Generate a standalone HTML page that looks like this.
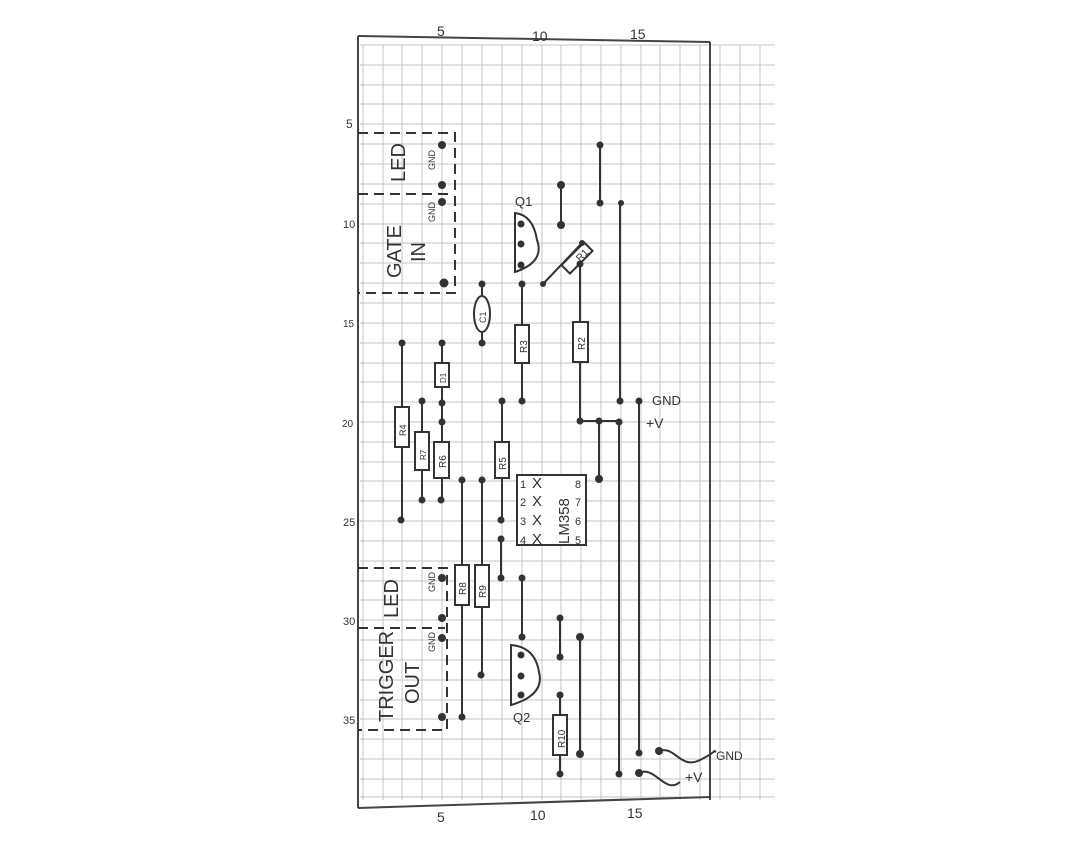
<!DOCTYPE html>
<html><head><meta charset="utf-8"><style>
html,body{margin:0;padding:0;background:#fff;}
svg{display:block;}
text{font-family:"Liberation Sans",sans-serif;fill:#333;}
</style></head><body>
<svg width="1080" height="852" viewBox="0 0 1080 852" xmlns="http://www.w3.org/2000/svg">
<rect width="1080" height="852" fill="#fff"/>
<g stroke="#c4c4c4" stroke-width="1">
<line x1="363" y1="45" x2="363" y2="800"/><line x1="383" y1="45" x2="383" y2="800"/><line x1="402" y1="45" x2="402" y2="800"/><line x1="422" y1="45" x2="422" y2="800"/><line x1="442" y1="45" x2="442" y2="800"/><line x1="462" y1="45" x2="462" y2="800"/><line x1="482" y1="45" x2="482" y2="800"/><line x1="502" y1="45" x2="502" y2="800"/><line x1="522" y1="45" x2="522" y2="800"/><line x1="542" y1="45" x2="542" y2="800"/><line x1="561" y1="45" x2="561" y2="800"/><line x1="581" y1="45" x2="581" y2="800"/><line x1="601" y1="45" x2="601" y2="800"/><line x1="621" y1="45" x2="621" y2="800"/><line x1="641" y1="45" x2="641" y2="800"/><line x1="660" y1="45" x2="660" y2="800"/><line x1="680" y1="45" x2="680" y2="800"/><line x1="700" y1="45" x2="700" y2="800"/><line x1="720" y1="45" x2="720" y2="800"/><line x1="740" y1="45" x2="740" y2="800"/><line x1="760" y1="45" x2="760" y2="800"/>
<line x1="360" y1="45" x2="775" y2="45"/><line x1="360" y1="65" x2="775" y2="65"/><line x1="360" y1="85" x2="775" y2="85"/><line x1="360" y1="104" x2="775" y2="104"/><line x1="360" y1="124" x2="775" y2="124"/><line x1="360" y1="144" x2="775" y2="144"/><line x1="360" y1="164" x2="775" y2="164"/><line x1="360" y1="184" x2="775" y2="184"/><line x1="360" y1="204" x2="775" y2="204"/><line x1="360" y1="224" x2="775" y2="224"/><line x1="360" y1="243" x2="775" y2="243"/><line x1="360" y1="263" x2="775" y2="263"/><line x1="360" y1="283" x2="775" y2="283"/><line x1="360" y1="303" x2="775" y2="303"/><line x1="360" y1="323" x2="775" y2="323"/><line x1="360" y1="343" x2="775" y2="343"/><line x1="360" y1="363" x2="775" y2="363"/><line x1="360" y1="382" x2="775" y2="382"/><line x1="360" y1="402" x2="775" y2="402"/><line x1="360" y1="422" x2="775" y2="422"/><line x1="360" y1="442" x2="775" y2="442"/><line x1="360" y1="462" x2="775" y2="462"/><line x1="360" y1="481" x2="775" y2="481"/><line x1="360" y1="501" x2="775" y2="501"/><line x1="360" y1="521" x2="775" y2="521"/><line x1="360" y1="541" x2="775" y2="541"/><line x1="360" y1="561" x2="775" y2="561"/><line x1="360" y1="581" x2="775" y2="581"/><line x1="360" y1="600" x2="775" y2="600"/><line x1="360" y1="620" x2="775" y2="620"/><line x1="360" y1="640" x2="775" y2="640"/><line x1="360" y1="660" x2="775" y2="660"/><line x1="360" y1="680" x2="775" y2="680"/><line x1="360" y1="700" x2="775" y2="700"/><line x1="360" y1="719" x2="775" y2="719"/><line x1="360" y1="739" x2="775" y2="739"/><line x1="360" y1="759" x2="775" y2="759"/><line x1="360" y1="779" x2="775" y2="779"/><line x1="360" y1="797" x2="775" y2="797"/>
</g>
<g stroke="#444" stroke-width="2" fill="none">
<line x1="358" y1="36" x2="710" y2="42"/>
<line x1="710" y1="42" x2="710" y2="800"/>
<line x1="358" y1="808" x2="710" y2="797"/>
<line x1="358" y1="36" x2="358" y2="808"/>
</g>
<g font-size="14" fill="#333">
<text x="437" y="36">5</text><text x="532" y="41">10</text><text x="630" y="39">15</text>
<text x="437" y="822">5</text><text x="530" y="820">10</text><text x="627" y="818">15</text>
<text x="346" y="128" font-size="12">5</text><text x="343" y="228" font-size="11">10</text><text x="343" y="327" font-size="10">15</text>
<text x="342" y="427" font-size="10">20</text><text x="343" y="526" font-size="11">25</text><text x="343" y="625" font-size="11">30</text><text x="343" y="724" font-size="11">35</text>
</g>
<g fill="none" stroke="#333" stroke-width="2" stroke-dasharray="10,6">
<path d="M358 133 L455 133 L455 293 L358 293"/>
<path d="M358 194 L450 194"/>
<path d="M358 568 L447 568 L447 730 L358 730"/>
<path d="M358 628 L445 628"/>
</g>
<g font-size="20" fill="#333">
<text transform="translate(405,182) rotate(-90)">LED</text>
<text transform="translate(401,278) rotate(-90)">GATE</text>
<text transform="translate(425,262) rotate(-90)">IN</text>
<text transform="translate(398,618) rotate(-90)">LED</text>
<text transform="translate(393,722) rotate(-90)">TRIGGER</text>
<text transform="translate(419,704) rotate(-90)">OUT</text>
<text font-size="9" transform="translate(435,170) rotate(-90)">GND</text>
<text font-size="9" transform="translate(435,222) rotate(-90)">GND</text>
<text font-size="9" transform="translate(435,592) rotate(-90)">GND</text>
<text font-size="9" transform="translate(435,652) rotate(-90)">GND</text>
</g>
<g stroke="#333" stroke-width="2" fill="none">
<line x1="561" y1="185" x2="561" y2="225"/>
<line x1="600" y1="145" x2="600" y2="203"/>
<line x1="620" y1="203" x2="620" y2="401"/>
<line x1="639" y1="401" x2="639" y2="753"/>
<line x1="619" y1="422" x2="619" y2="774"/>
<line x1="543" y1="284" x2="582" y2="243"/>
<line x1="580" y1="264" x2="580" y2="421"/>
<line x1="522" y1="284" x2="522" y2="401"/>
<line x1="482" y1="284" x2="482" y2="343"/>
<line x1="402" y1="343" x2="402" y2="520"/>
<line x1="422" y1="401" x2="422" y2="500"/>
<line x1="442" y1="343" x2="442" y2="500"/>
<line x1="502" y1="401" x2="502" y2="520"/>
<line x1="501" y1="539" x2="501" y2="578"/>
<line x1="462" y1="480" x2="462" y2="717"/>
<line x1="482" y1="480" x2="482" y2="675"/>
<line x1="580" y1="421" x2="619" y2="421"/>
<line x1="599" y1="421" x2="599" y2="479"/>
<line x1="522" y1="578" x2="522" y2="637"/>
<line x1="560" y1="618" x2="560" y2="657"/>
<line x1="560" y1="695" x2="560" y2="774"/>
<line x1="580" y1="637" x2="580" y2="754"/>
<path d="M659 751 C675 745,680 770,700 760 S712 750,716 752"/>
<path d="M639 773 C655 765,665 795,680 782"/>
</g>
<g stroke="#333" stroke-width="2" fill="#fff">
<path d="M515 213 L515 272 Q545 262,537 240 Q533 215,515 213 Z"/>
<path d="M511 645 L511 705 Q545 695,539 672 Q535 647,511 645 Z"/>
<rect x="571" y="242" width="12" height="32" transform="rotate(45 577 258)" />
<ellipse cx="482" cy="314" rx="8" ry="18"/>
<rect x="515" y="325" width="14" height="38"/>
<rect x="573" y="322" width="15" height="40"/>
<rect x="435" y="363" width="14" height="24"/>
<rect x="395" y="407" width="14" height="40"/>
<rect x="415" y="432" width="14" height="38"/>
<rect x="434" y="442" width="15" height="36"/>
<rect x="495" y="442" width="14" height="36"/>
<rect x="455" y="565" width="14" height="40"/>
<rect x="475" y="565" width="14" height="42"/>
<rect x="553" y="715" width="14" height="40"/>
<rect x="517" y="475" width="69" height="70"/>
</g>
<g font-size="10" fill="#333">
<text transform="translate(580,262) rotate(-45)">R1</text>
<text transform="translate(486,323) rotate(-90)" font-size="9">C1</text>
<text transform="translate(527,353) rotate(-90)">R3</text>
<text transform="translate(585,350) rotate(-90)">R2</text>
<text transform="translate(446,383) rotate(-90)" font-size="8">D1</text>
<text transform="translate(406,436) rotate(-90)" font-size="9">R4</text>
<text transform="translate(426,460) rotate(-90)" font-size="8">R7</text>
<text transform="translate(446,468) rotate(-90)">R6</text>
<text transform="translate(506,470) rotate(-90)">R5</text>
<text transform="translate(466,595) rotate(-90)">R8</text>
<text transform="translate(486,598) rotate(-90)">R9</text>
<text transform="translate(565,748) rotate(-90)">R10</text>
<text x="515" y="206" font-size="13">Q1</text>
<text x="513" y="722" font-size="13">Q2</text>
<text x="520" y="488" font-size="11">1</text><text x="520" y="506" font-size="11">2</text><text x="520" y="525" font-size="11">3</text><text x="520" y="544" font-size="11">4</text>
<text x="575" y="488" font-size="11">8</text><text x="575" y="506" font-size="11">7</text><text x="575" y="525" font-size="11">6</text><text x="575" y="544" font-size="11">5</text>
<text x="532" y="488" font-size="15">X</text><text x="532" y="506" font-size="15">X</text><text x="532" y="525" font-size="15">X</text><text x="532" y="544" font-size="15">X</text>
<text transform="translate(569,544) rotate(-90)" font-size="15">LM358</text>
<text x="652" y="405" font-size="13">GND</text>
<text x="646" y="428" font-size="14">+V</text>
<text x="716" y="760" font-size="12">GND</text>
<text x="685" y="782" font-size="14">+V</text>
</g>
<g fill="#333">
<circle cx="442" cy="145" r="4"/><circle cx="442" cy="185" r="4"/><circle cx="442" cy="202" r="4"/><circle cx="444" cy="283" r="4.5"/>
<circle cx="521" cy="224" r="3.5"/><circle cx="521" cy="244" r="3.5"/><circle cx="521" cy="265" r="3.5"/>
<circle cx="561" cy="185" r="4"/><circle cx="561" cy="225" r="4"/><circle cx="600" cy="145" r="3.5"/><circle cx="600" cy="203" r="3.5"/><circle cx="621" cy="203" r="3"/>
<circle cx="543" cy="284" r="3"/><circle cx="582" cy="243" r="3"/><circle cx="580" cy="264" r="3.5"/>
<circle cx="522" cy="284" r="3.5"/><circle cx="482" cy="284" r="3.5"/><circle cx="482" cy="343" r="3.5"/><circle cx="522" cy="401" r="3.5"/>
<circle cx="402" cy="343" r="3.5"/><circle cx="442" cy="343" r="3.5"/><circle cx="422" cy="401" r="3.5"/><circle cx="442" cy="403" r="3.5"/><circle cx="442" cy="422" r="3.5"/>
<circle cx="422" cy="500" r="3.5"/><circle cx="441" cy="500" r="3.5"/><circle cx="401" cy="520" r="3.5"/>
<circle cx="502" cy="401" r="3.5"/><circle cx="501" cy="520" r="3.5"/><circle cx="501" cy="539" r="3.5"/><circle cx="501" cy="578" r="3.5"/>
<circle cx="462" cy="480" r="3.5"/><circle cx="482" cy="480" r="3.5"/>
<circle cx="580" cy="421" r="3.5"/><circle cx="599" cy="421" r="3.5"/><circle cx="619" cy="422" r="3.5"/><circle cx="620" cy="401" r="3.5"/><circle cx="639" cy="401" r="3.5"/><circle cx="599" cy="479" r="4"/>
<circle cx="442" cy="578" r="4"/><circle cx="442" cy="618" r="4"/><circle cx="442" cy="638" r="4"/><circle cx="442" cy="717" r="4"/>
<circle cx="462" cy="717" r="3.5"/><circle cx="481" cy="675" r="3.5"/>
<circle cx="522" cy="578" r="3.5"/><circle cx="522" cy="637" r="3.5"/>
<circle cx="521" cy="655" r="3.5"/><circle cx="521" cy="676" r="3.5"/><circle cx="521" cy="695" r="3.5"/>
<circle cx="560" cy="618" r="3.5"/><circle cx="560" cy="657" r="3.5"/><circle cx="560" cy="695" r="3.5"/><circle cx="560" cy="774" r="3.5"/>
<circle cx="580" cy="637" r="4"/><circle cx="580" cy="754" r="4"/>
<circle cx="619" cy="774" r="3.5"/><circle cx="639" cy="753" r="3.5"/><circle cx="639" cy="773" r="4"/><circle cx="659" cy="751" r="4"/>
</g>
</svg>
</body></html>
